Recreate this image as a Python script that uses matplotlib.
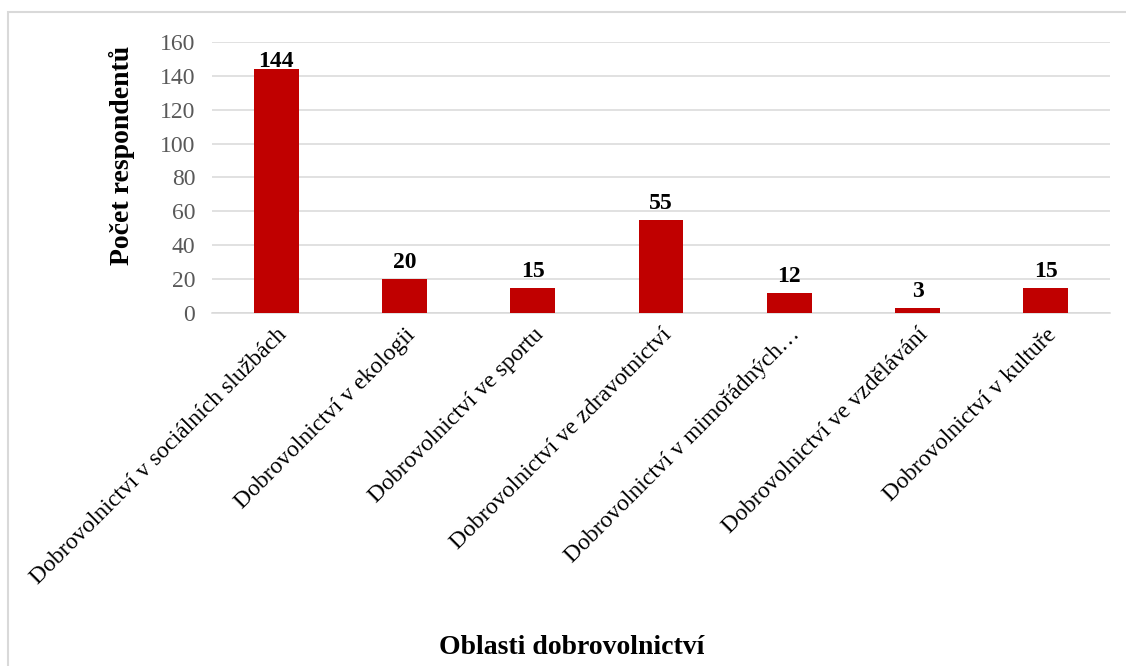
import matplotlib.pyplot as plt
from matplotlib.patches import Rectangle

# data
categories = [
    "Dobrovolnictví v sociálních službách",
    "Dobrovolnictví v ekologii",
    "Dobrovolnictví ve sportu",
    "Dobrovolnictví ve zdravotnictví",
    "Dobrovolnictví v mimořádných…",
    "Dobrovolnictví ve vzdělávání",
    "Dobrovolnictví v kultuře",
]
counts = [144, 20, 15, 55, 12, 3, 15]
y_ticks = [0, 20, 40, 60, 80, 100, 120, 140, 160]

plt.rcParams['font.family'] = ['Liberation Serif', 'DejaVu Serif']

fig = plt.figure(figsize=(11.26, 6.66), dpi=100)
ax = fig.add_axes([0.1883, 0.530, 0.7975, 0.407])

x = range(len(categories))
ax.bar(x, counts, width=0.35, color='#C00000', zorder=3)

# value labels, the tallest one is kept inside the plot area
for xi, v in zip(x, counts):
    ax.text(xi, min(v + 6.5, 145.2), str(v), ha='center', va='baseline',
            fontsize=17, fontweight='bold', color='black', zorder=4)

ax.set_xlim(-0.5, len(categories) - 0.5)
ax.set_ylim(0, 160)
ax.set_yticks(y_ticks)
ax.yaxis.grid(True, color='#d9d9d9', linewidth=1.1, zorder=0)
ax.tick_params(axis='y', length=0, labelsize=17, labelcolor='#595959', pad=12)
ax.tick_params(axis='x', length=0, labelsize=17, pad=8)
ax.set_xticks(list(x))
ax.set_xticklabels(categories, rotation=45, ha='right', rotation_mode='anchor')

for s in ['top', 'right', 'left']:
    ax.spines[s].set_visible(False)
ax.spines['bottom'].set_color('#d9d9d9')
ax.spines['bottom'].set_linewidth(1.1)

fig.text(122 / 1126, 0.766, "Počet respondentů", rotation=90, ha='center', va='center',
         fontsize=20, fontweight='bold')
fig.text(572 / 1126, 1 - 648 / 666, "Oblasti dobrovolnictví", ha='center', va='center',
         fontsize=20, fontweight='bold')

# outer chart frame
fig.patches.append(Rectangle((8 / 1126, -0.1), 1.2, 1.1 - 12 / 666, transform=fig.transFigure,
                             fill=False, edgecolor='#d9d9d9', linewidth=1.5))

fig.savefig('out.png', dpi=100)
